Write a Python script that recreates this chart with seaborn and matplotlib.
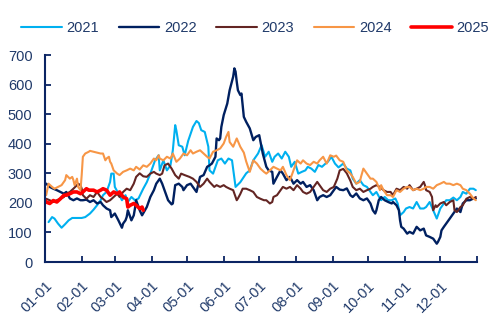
import matplotlib
matplotlib.use("Agg")
import matplotlib.pyplot as plt
import seaborn as sns
import pandas as pd

# ---------------- data (day of year, value) ----------------
d2021 = [3,6,8,11,14,17,20,23,27,31,34,38,41,44,47,49,52,55,56,58,59,62,65,68,70,73,76,79,83,86,89,93,96,97,100,103,106,108,110,111,113,116,118,121,125,128,130,132,135,138,139,142,146,149,152,155,158,161,165,168,170,173,176,180,183,186,189,192,194,197,200,203,206,208,211,214,217,220,222,225,228,231,234,237,239,242,245,248,252,255,258,260,263,266,269,272,275,277,280,283,284,287,290,293,296,298,300,303,305,308,311,314,317,320,322,325,328,331,334,336,339,342,345,348,351,353,356,359,362,364]
v2021 = [135,152,147,130,116,128,141,149,149,149,152,164,177,192,209,226,237,271,299,299,254,232,209,226,203,220,209,215,248,270,299,344,361,310,344,310,327,378,463,445,395,390,361,410,457,477,470,446,440,390,310,299,344,350,333,350,344,254,270,288,300,310,344,367,395,356,373,339,356,367,350,373,356,322,339,299,305,310,322,316,305,328,322,333,339,356,333,320,333,316,310,282,265,277,260,254,237,226,237,215,209,220,209,209,215,198,158,169,181,186,181,203,181,181,186,203,175,147,181,192,209,209,218,209,220,237,231,248,248,243]

d2022 = [1,4,7,10,13,16,18,21,24,27,30,32,35,38,41,44,47,49,52,55,56,59,62,65,66,68,69,70,72,73,75,76,77,79,80,82,86,89,92,94,97,99,101,104,107,108,110,113,116,117,120,123,125,128,131,134,137,139,141,144,145,147,148,149,151,154,156,159,160,161,162,163,165,166,168,170,173,176,178,181,184,187,189,192,193,196,199,201,204,207,210,213,216,218,221,224,227,230,232,235,238,241,244,246,249,252,255,258,260,263,266,269,272,275,277,279,280,282,284,287,290,293,294,297,299,300,301,303,306,308,311,314,317,320,322,325,328,331,332,334,335,337,339,342,345,348,351,353,356,359,362,364]
v2022 = [265,254,248,243,237,231,237,215,209,215,209,209,211,203,209,198,203,192,181,175,152,164,141,116,130,141,152,175,152,141,158,181,209,186,175,158,186,220,243,265,282,265,243,209,195,198,260,265,254,243,260,265,254,237,288,294,322,327,333,356,418,412,418,457,497,536,581,627,655,644,610,581,565,570,491,474,452,412,423,429,367,322,310,305,265,288,310,299,277,288,265,277,265,271,254,260,243,209,220,226,220,226,243,254,245,243,249,226,220,232,215,209,215,198,175,164,175,209,220,209,203,198,203,192,175,141,119,113,96,102,96,119,107,113,90,85,79,62,68,85,107,119,130,147,164,181,169,198,209,209,215,215]

d2023 = [1,4,7,10,13,16,18,21,24,27,28,30,31,32,35,38,41,44,47,49,52,55,58,61,63,66,69,72,75,77,80,83,86,89,92,94,97,99,101,104,107,110,113,115,118,122,125,128,131,134,137,139,143,145,148,151,153,156,159,162,163,165,167,170,173,176,179,182,185,187,190,192,193,196,199,201,204,207,210,213,216,218,221,224,227,230,232,235,238,241,244,247,249,252,255,258,260,263,266,269,272,275,277,280,283,286,289,292,294,297,300,303,306,308,311,314,317,320,321,322,325,327,328,330,331,334,337,339,342,345,346,348,351,353,356,359,362,364]
v2023 = [214,209,203,209,214,220,231,237,248,260,265,260,248,226,214,226,220,237,220,214,203,209,220,231,220,237,248,243,265,288,300,290,288,299,305,299,294,299,327,333,316,294,282,299,294,288,282,271,254,265,282,271,254,260,254,260,254,248,243,209,215,230,248,248,243,237,220,214,209,209,198,203,220,226,243,254,248,254,243,260,248,237,231,237,254,271,260,243,237,248,254,282,310,315,300,275,254,243,248,237,243,248,254,260,254,243,237,237,226,248,243,254,248,260,243,248,254,271,260,243,237,220,175,192,186,198,203,192,203,209,175,169,186,192,214,220,214,220]

d2024 = [1,3,6,8,11,14,17,18,21,23,24,25,27,28,30,31,32,34,37,38,41,44,47,49,51,52,54,55,56,58,61,63,66,69,72,75,77,80,83,86,89,92,94,96,97,100,103,106,108,111,114,117,120,123,125,128,131,134,137,139,142,145,148,151,153,155,156,159,162,165,168,170,172,173,176,179,182,185,187,190,193,196,199,201,204,207,210,213,216,218,221,224,227,230,232,235,238,241,244,246,249,252,255,258,260,263,266,267,269,272,275,277,280,283,284,286,289,292,294,297,300,303,306,308,311,314,317,320,322,325,328,331,334,337,339,342,345,348,351,353,356,359,362,364]
v2024 = [226,265,254,248,254,260,277,294,282,288,277,260,282,254,243,294,356,367,373,376,373,370,367,367,344,350,356,339,333,310,299,294,305,310,316,310,322,313,327,322,333,350,344,361,350,344,356,350,367,339,350,367,361,378,367,373,378,367,356,350,373,378,384,401,423,440,406,390,418,390,370,340,316,305,344,333,316,305,299,310,322,316,310,322,294,277,310,344,333,344,333,328,339,333,344,356,333,361,356,360,344,339,310,299,288,265,271,288,316,299,282,282,271,243,260,243,226,226,220,243,237,248,254,254,243,248,243,248,254,254,248,260,265,271,265,265,260,265,260,248,243,231,215,209]

d2025 = [0,1,4,7,10,13,16,18,21,24,27,30,32,35,37,38,41,44,47,49,52,55,58,61,63,66,69,70,72,75,77,80,82,83]
v2025 = [209,203,198,208,203,214,226,226,231,237,237,231,237,248,243,243,243,237,243,248,243,226,237,231,237,220,214,186,192,198,192,181,186,175]

years = ["2021", "2022", "2023", "2024", "2025"]
colors = ["#00B0F0", "#002060", "#632523", "#F79646", "#FF0000"]
widths = [1.5, 1.7, 1.5, 1.5, 2.6]
tick_days = [0, 31, 59, 90, 120, 151, 181, 212, 243, 273, 304, 334, 365]
tick_labels = ["01-01", "02-01", "03-01", "04-01", "05-01", "06-01", "07-01",
               "08-01", "09-01", "10-01", "11-01", "12-01", ""]

series = {"2021": (d2021, v2021), "2022": (d2022, v2022), "2023": (d2023, v2023),
          "2024": (d2024, v2024), "2025": (d2025, v2025)}

sns.set_theme(style="white")
plt.rcParams["font.family"] = ["Liberation Sans", "DejaVu Sans"]
txt = "#203A6A"
axis_c = "#0B2463"

fig = plt.figure(figsize=(5.0, 3.29), dpi=100)
ax = fig.add_axes([0.09, 0.2036, 0.864, 0.629])

for yr, col, lw in zip(years, colors, widths):
    d, v = series[yr]
    df = pd.DataFrame({"day": d, "value": v})
    sns.lineplot(data=df, x="day", y="value", ax=ax, color=col, linewidth=lw,
                 label=yr, estimator=None, sort=False)

ax.set_xlim(0, 365)
ax.set_ylim(0, 700)
ax.set_xlabel("")
ax.set_ylabel("")
ax.set_yticks(range(0, 701, 100))
ax.set_xticks(tick_days)
ax.set_xticklabels(tick_labels, rotation=45, ha="right", va="top", rotation_mode="anchor")
for s in ["top", "right"]:
    ax.spines[s].set_visible(False)
for s in ["left", "bottom"]:
    ax.spines[s].set_color(axis_c)
    ax.spines[s].set_linewidth(1.5)
ax.tick_params(axis="both", direction="in", length=4, width=1.3, color=axis_c,
               labelsize=10.5, labelcolor=txt)
ax.tick_params(axis="y", pad=9, left=True)
ax.tick_params(axis="x", pad=12, bottom=True)

h, l = ax.get_legend_handles_labels()
ax.legend_.remove()
fig.legend(h, l, loc="center", ncol=5, bbox_to_anchor=(0.51, 0.915), frameon=False,
           fontsize=10.5, handlelength=2.8, handletextpad=0.3, columnspacing=1.35,
           labelcolor=txt)

fig.savefig("out.png", dpi=100)
